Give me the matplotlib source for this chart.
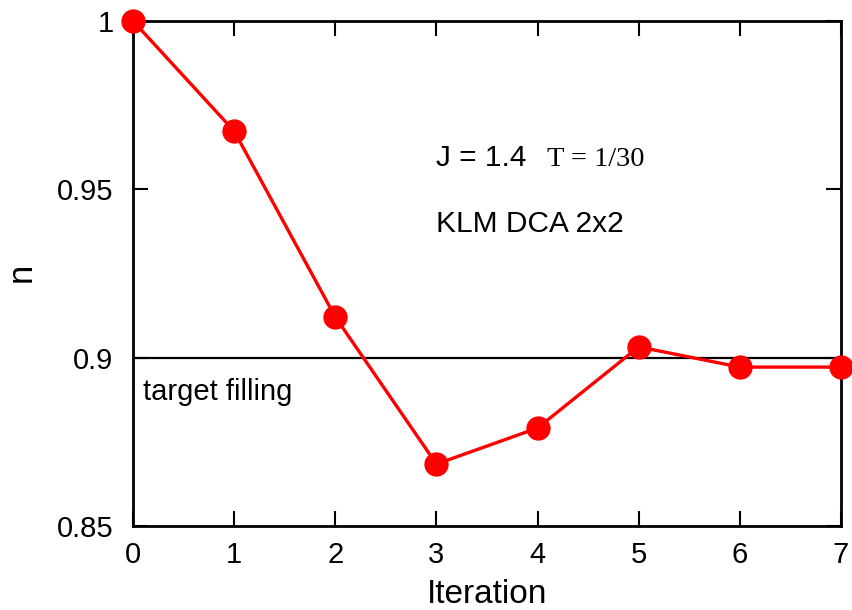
import numpy as np
import matplotlib
matplotlib.use('Agg')
import matplotlib.pyplot as plt

# filling vs. DCA iteration
iterations = [0, 1, 2, 3, 4, 5, 6, 7]
filling = [1.0, 0.9673, 0.9121, 0.8684, 0.8791, 0.9032, 0.8972, 0.8972]
target = 0.9
xticks = [0, 1, 2, 3, 4, 5, 6, 7]
yticks = [0.85, 0.9, 0.95, 1.0]
ytick_labels = ['0.85', '0.9', '0.95', '1']

plt.rcParams['font.family'] = ['Liberation Sans', 'DejaVu Sans']

fig = plt.figure(figsize=(8.52, 6.10), dpi=100)
ax = fig.add_axes([133/852, 1 - 526/610, (841 - 133)/852, (526 - 21)/610])

ax.axhline(target, color='black', lw=1.6, zorder=1)
ax.plot(iterations, filling, color='#ff0000', lw=2.4, marker='o',
        markersize=16.5, clip_on=False, zorder=3)

ax.set_xlim(0, 7)
ax.set_ylim(0.85, 1.0)
ax.set_xticks(xticks)
ax.set_yticks(yticks)
ax.set_yticklabels(ytick_labels)
ax.tick_params(direction='in', length=11, width=1.5, top=True, right=True,
               labelsize=21)
ax.tick_params(axis='x', pad=11)
ax.tick_params(axis='y', pad=14)
for s in ax.spines.values():
    s.set_linewidth(2)

# axis titles placed in axes coordinates
ax.set_xlabel('Iteration', fontsize=24, va='baseline')
ax.xaxis.set_label_coords(0.5, -0.1525)
ax.set_ylabel('n', fontsize=25, va='center')
ax.yaxis.set_label_coords(-0.1582, 0.503)

fig.text(436/852, 1 - 166/610, 'J = 1.4', fontsize=21.5, va='baseline')
fig.text(547/852, 1 - 166/610, 'T = 1/30', family='Liberation Serif',
         fontsize=20.5, va='baseline')
fig.text(436/852, 1 - 232/610, 'KLM DCA 2x2', fontsize=21.5, va='baseline')
fig.text(143/852, 1 - 400/610, 'target filling', fontsize=21, va='baseline')

fig.savefig('out.png', dpi=100)
